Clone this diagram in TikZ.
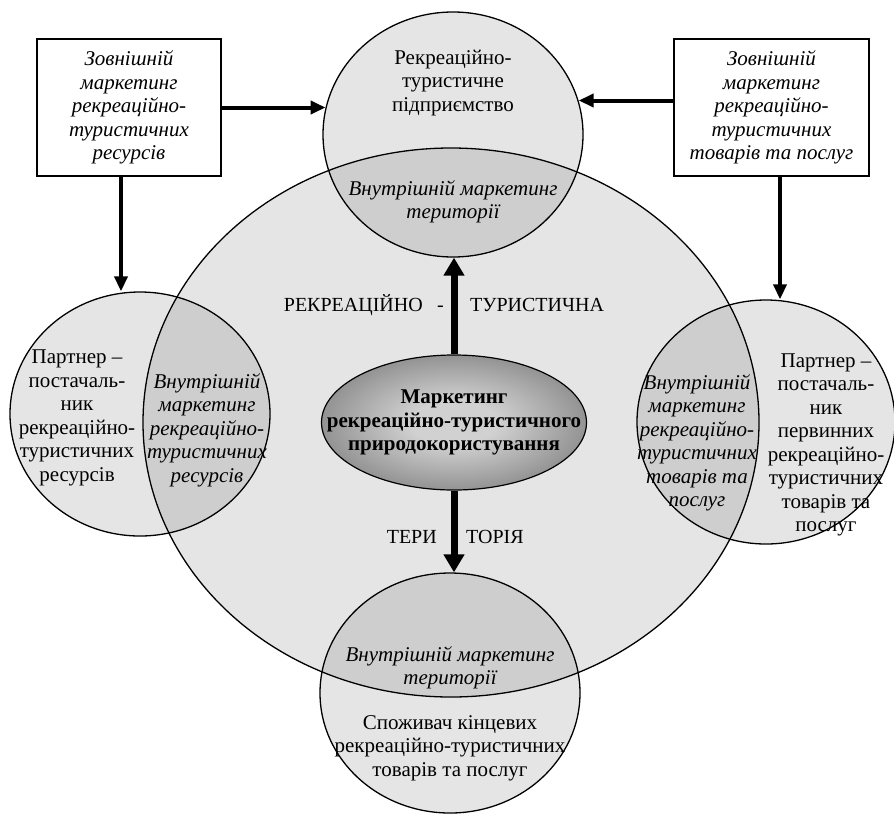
\documentclass[tikz,border=0pt]{standalone}
\usepackage{fontspec}
\setmainfont{Liberation Serif}
\usetikzlibrary{positioning,shapes.geometric,arrows.meta}
\colorlet{coremid}{black!18}
\colorlet{coreedge}{black!78}
\pgfdeclareradialshading{coreshade}{\pgfpoint{0bp}{0bp}}{color(0bp)=(coremid); color(8bp)=(coremid); color(50bp)=(coreedge)}

\begin{document}
\begin{tikzpicture}[x=1pt,y=-1pt,
  every node/.style={font=\fontsize{21}{23.5}\selectfont},
  zone/.style={ellipse, draw, line width=1.3pt, fill=black, fill opacity=0.1, inner sep=0pt},
  extbox/.style={draw, line width=1.2pt, fill=white, minimum width=184pt, minimum height=137pt, align=center, font=\fontsize{21}{23.5}\selectfont\itshape},
  txt/.style={align=center, inner sep=0pt},
  itxt/.style={txt, font=\fontsize{21}{23.5}\selectfont\itshape},
  lab/.style={inner sep=0pt, font=\fontsize{20}{23.5}\selectfont},
  arr/.style={line width=4pt, -{Triangle[length=15pt,width=13pt]}},
  bigarr/.style={line width=7pt, -{Triangle[length=18pt,width=20pt]}}]
\useasboundingbox (0,0) rectangle (894,815);
\node[zone, minimum width=616pt, minimum height=549pt] (terr) at (451,422.5) {};
\node[zone, minimum width=260pt, minimum height=245pt] (firm) at (453,134.5) {};
\node[zone, minimum width=260pt, minimum height=244pt] (lpart) at (140,414) {};
\node[zone, minimum width=258pt, minimum height=244pt] (rpart) at (766,422) {};
\node[zone, minimum width=260pt, minimum height=240pt] (cons) at (450,693) {};
\node[ellipse, draw, line width=1.2pt, shade, shading=coreshade, minimum width=265pt, minimum height=135pt, inner sep=0pt] (core) at (454,422.5) {};
\node[extbox] (lbox) at (129,107.5) {Зовнішній\\маркетинг\\рекреаційно-\\туристичних\\ресурсів};
\node[extbox, minimum width=195pt] (rbox) at (771.5,107.5) {Зовнішній\\маркетинг\\рекреаційно-\\туристичних\\товарів та послуг};
\draw[arr] (lbox.east) -- (lbox.east -| firm.168);
\draw[arr] ([yshift=7pt]rbox.west) -- ([yshift=7pt]rbox.west -| firm.15);
\draw[arr] ([xshift=-8pt]lbox.south) -- ([xshift=-8pt]lbox.south |- lpart.north);
\draw[arr] ([xshift=8.5pt]rbox.south) -- ([xshift=8.5pt]rbox.south |- rpart.north);
\draw[bigarr] (core.north) -- (core.north |- firm.south);
\draw[bigarr] (core.south) -- (core.south |- cons.north);
\node[txt] (firmtxt) at (453,83) {Рекреаційно-\\туристичне\\підприємство};
\node[itxt] (firmin) at (453,202) {Внутрішній маркетинг\\території};
\node[txt] (lparttxt) at (77,418) {Партнер –\\постачаль-\\ник\\рекреаційно-\\туристичних\\ресурсів};
\node[itxt] (lpartin) at (207,430) {Внутрішній\\маркетинг\\рекреаційно-\\туристичних\\ресурсів};
\node[itxt] (rpartin) at (697,443) {Внутрішній\\маркетинг\\рекреаційно-\\туристичних\\товарів та\\послуг};
\node[txt] (rparttxt) at (826,445) {Партнер –\\постачаль-\\ник\\первинних\\рекреаційно-\\туристичних\\товарів та\\послуг};
\node[itxt] (consin) at (450,668) {Внутрішній маркетинг\\території};
\node[txt] (constxt) at (450,748) {Споживач кінцевих\\рекреаційно-туристичних\\товарів та послуг};
\node[txt, font=\fontsize{21}{23.5}\selectfont\bfseries] (coretxt) at (core) {Маркетинг\\рекреаційно-туристичного\\природокористування};
\node[lab, anchor=base east] (lab1) at (423,311) {РЕКРЕАЦІЙНО};
\node[lab, anchor=base east] (lab1d) at (444,311) {-};
\node[lab, anchor=base west] (lab2) at (470,311) {ТУРИСТИЧНА};
\node[lab, anchor=base east] (lab3) at (437,543) {ТЕРИ};
\node[lab, anchor=base west] (lab4) at (466,543) {ТОРІЯ};
\end{tikzpicture}
\end{document}
